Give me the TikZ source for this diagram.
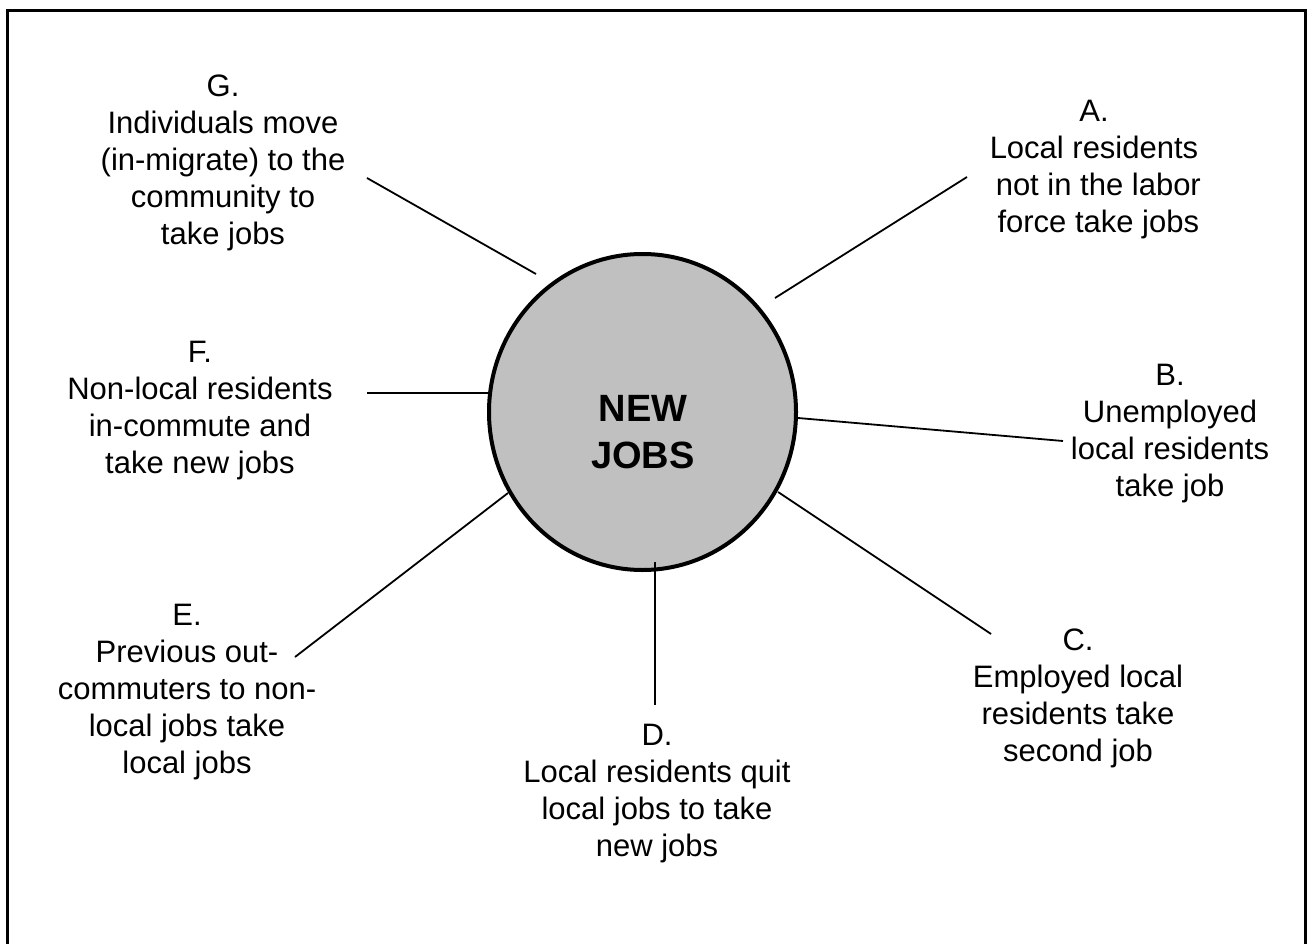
\documentclass[tikz,border=0pt]{standalone}
\usepackage{fontspec}
\setmainfont{Liberation Sans}
\usetikzlibrary{shapes.geometric}
\begin{document}
\begin{tikzpicture}[x=1pt,y=-1pt,
  lbl/.style={align=center,inner sep=0pt,font=\fontsize{31}{37}\selectfont},
  conn/.style={line width=1.8pt},
  hubstyle/.style={ellipse,draw=black,line width=4pt,fill=hubgray,minimum width=307pt,minimum height=316pt,inner sep=0pt,align=center,font=\fontsize{38}{47}\selectfont\bfseries}
]
\definecolor{hubgray}{HTML}{C0C0C0}
\useasboundingbox (0,0) rectangle (1309,944);
\draw[line width=3pt] (7.5,944) -- (7.5,10.5) -- (1305.5,10.5) -- (1305.5,944);

\node[hubstyle] (hub) at (642.5,412) {};
\node[font=\fontsize{38}{47}\selectfont\bfseries,align=center,inner sep=0pt] (hubtext) at (643,432) {NEW\\JOBS};

\node[lbl] (G) at (223,163) {G.\\Individuals move\\(in-migrate) to the\\community to\\take jobs};
\node[lbl] (A) at (1094,170) {A.\\Local residents\\\ not in the labor\\\ force take jobs};
\node[lbl] (F) at (200,411) {F.\\Non-local residents\\in-commute and\\take new jobs};
\node[lbl] (B) at (1170,434) {B.\\Unemployed\\local residents\\take job};
\node[lbl] (C) at (1078,698) {C.\\Employed local\\residents take\\second job};
\node[lbl] (D) at (657,794) {D.\\Local residents quit\\local jobs to take\\new jobs};
\node[lbl] (E) at (187,692) {E.\\Previous out-\\commuters to non-\\local jobs take\\local jobs};

\coordinate (g1) at (367,178); \coordinate (g2) at (536,274);
\coordinate (a1) at (967,177); \coordinate (a2) at (775,298);
\coordinate (f1) at (367,393); \coordinate (f2) at (489,393);
\coordinate (b1) at (798,418); \coordinate (b2) at (1063,441);
\coordinate (c1) at (778,492); \coordinate (c2) at (991,634);
\coordinate (d1) at (655,562); \coordinate (d2) at (655,705);
\coordinate (e1) at (295,657); \coordinate (e2) at (508,493);

\draw[conn] (g1) -- (g2);
\draw[conn] (a1) -- (a2);
\draw[conn] (f1) -- (f2);
\draw[conn] (b1) -- (b2);
\draw[conn] (c1) -- (c2);
\draw[conn] (d1) -- (d2);
\draw[conn] (e1) -- (e2);
\end{tikzpicture}
\end{document}
